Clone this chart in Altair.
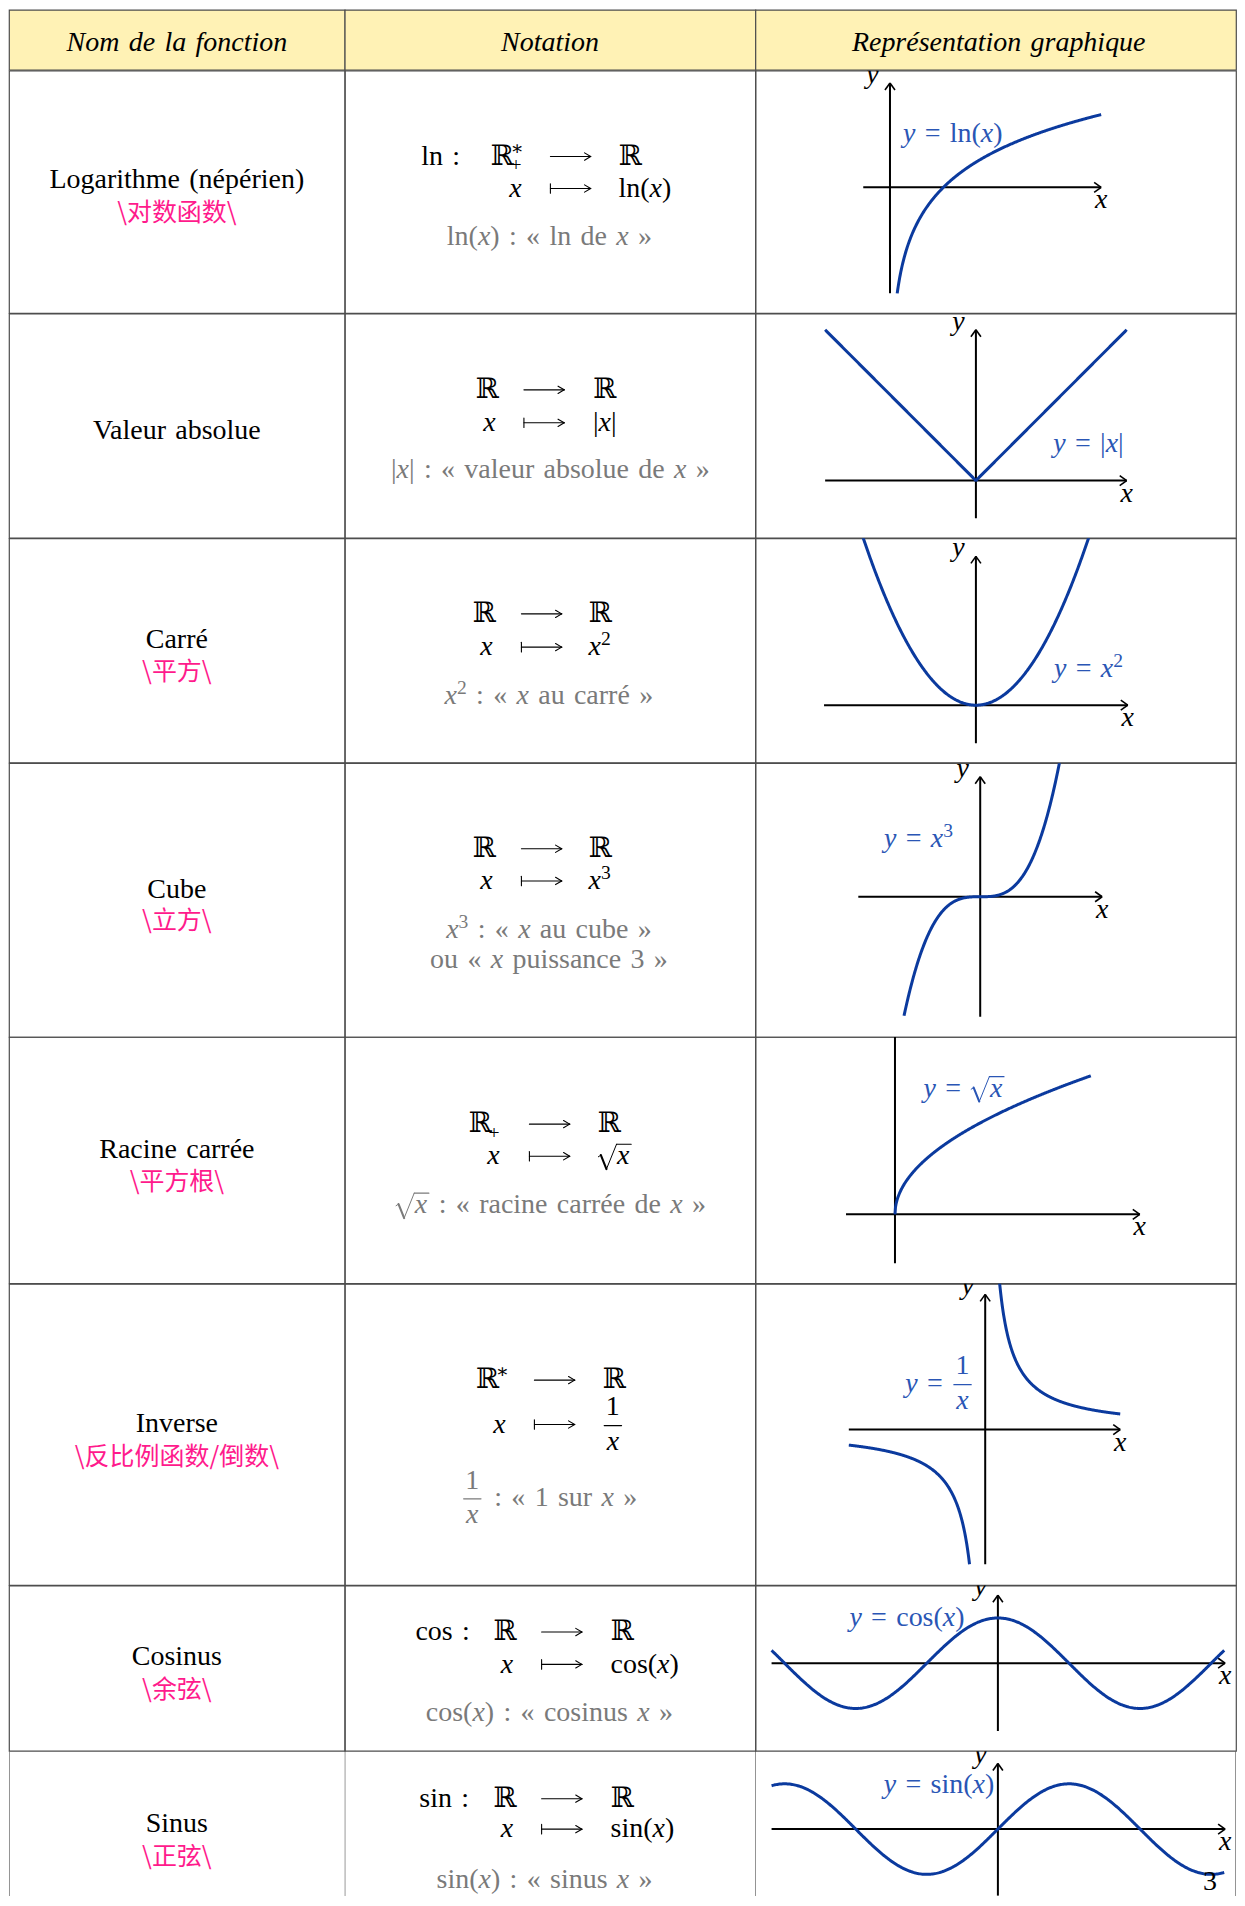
import altair as alt
import numpy as np
import pandas as pd

# ======================= content =======================
HEADERS = ["Nom de la fonction", "Notation", "Représentation graphique"]
NAMES = ["Logarithme (népérien)", "Valeur absolue", "Carré", "Cube",
         "Racine carrée", "Inverse", "Cosinus", "Sinus"]
NAMES_ZH = ["\\对数函数\\", "", "\\平方\\", "\\立方\\", "\\平方根\\",
            "\\反比例函数/倒数\\", "\\余弦\\", "\\正弦\\"]
PREFIX = ["ln :", "", "", "", "", "", "cos :", "sin :"]
DOMAIN = ["ℝ^{∗}_{+}", "ℝ", "ℝ", "ℝ", "ℝ_{+}", "ℝ^{∗}", "ℝ", "ℝ"]
CODOMAIN = ["ℝ", "ℝ", "ℝ", "ℝ", "ℝ", "ℝ", "ℝ", "ℝ"]
VARIABLE = ["*x*"] * 8
IMAGE = ["ln(*x*)", "|*x*|", "*x*^{2}", "*x*^{3}", "√#{*x*}",
         "\\frac{1}{*x*}", "cos(*x*)", "sin(*x*)"]
READING = [["ln(*x*) : « ln de *x* »"],
           ["|*x*| : « valeur absolue de *x* »"],
           ["*x*^{2} : « *x* au carré »"],
           ["*x*^{3} : « *x* au cube »", "ou « *x* puissance 3 »"],
           ["√#{*x*} : « racine carrée de *x* »"],
           ["\\frac{1}{*x*} : « 1 sur *x* »"],
           ["cos(*x*) : « cosinus *x* »"],
           ["sin(*x*) : « sinus *x* »"]]
CURVE_LABEL = ["*y* = ln(*x*)", "*y* = |*x*|", "*y* = *x*^{2}", "*y* = *x*^{3}",
               "*y* = √#{*x*}", "*y* = \\frac{1}{*x*}", "*y* = cos(*x*)", "*y* = sin(*x*)"]
FUNCTIONS = ["ln", "abs", "square", "cube", "sqrt", "inverse", "cos", "sin"]
CURVE_DOMAIN = [[(0.135, 3.95)], [(-3, 3)], [(-1.6, 1.6)], [(-1.25, 1.35)],
                [(0, 2)], [(-3, -0.345), (0.29, 2.97)], [(-5, 5)], [(-5, 5)]]
X_AXIS = [(-0.5, 3.95), (-3, 3), (-2, 2), (-2, 2), (-0.5, 2.5), (-3, 2.97), (-5, 5.02), (-5, 5.02)]
Y_AXIS = [(-2, 1.97), (-0.75, 3), (-0.5, 1.96), (-1.97, 1.97), (-0.5, 2.0),
          (-2.9, 2.91), (-1.5, 1.5), (-1.47, 1.45)]
PAGE_NUMBER = "3"

# ======================= layout (reference pixels) =======================
COL_EDGES = [8, 344, 755, 1236]
ROW_EDGES = [10.8, 71, 313.5, 538, 762.5, 1036.5, 1283, 1584.5, 1750, 1894.8]
HEADER_BASE = 52.3
NAME_CX = 176
NAME_BASE = [188.3, 439.3, 647.3, 897, 1157.4, 1431, 1664, 1830.6]
ZH_BASE = [221, None, 679.5, 928.5, 1190, 1464, 1697.5, 1863.5]
# prefix_cx, left_col_right, arrow_cx, right_col_left, base1, base2, reading_cx, reading_bases
NOTATION_POS = [
    (440, 521, 570, 618, 165, 197, 548.8, [245]),
    (None, 495, 543.5, 592.5, 398, 431, 549.8, [478]),
    (None, 492, 541, 588, 621.7, 655, 548.3, [704]),
    (None, 492, 541, 588, 856.3, 888.5, 548.4, [937.5, 967.9]),
    (None, 499, 549, 597, 1131.9, 1164, 550, [1213]),
    (None, 505, 554, 602, 1387.6, 1432, 549, [1505.3]),
    (442, 512.7, 561.2, 610, 1639.2, 1671.6, 548.8, [1720.3]),
    (443.5, 512.7, 561.2, 610, 1805.5, 1836, 544, [1886.6]),
]
GRAPH_ORIGIN = [(889.7, 187.7), (975.7, 480.7), (975.7, 705), (980, 896.2),
                (894.7, 1214), (985, 1429), (997.7, 1662.3), (997.7, 1827.8)]
GRAPH_UNIT = [(53.5, 53), (50.3, 50.3), (76, 76), (61, 61), (98, 98),
              (45.5, 46.5), (45.3, 45.3), (45.3, 45.3)]
LABEL_POS = [(952.5, 142), (1088.3, 451.7), (1088.3, 676.7), (918.3, 846.2),
             (963.8, 1096.4), (940, 1391), (906.7, 1625), (938.7, 1791.3)]
PAGE_POS = (1210, 1888.5)

# ======================= style =======================
SERIF = "Liberation Serif, DejaVu Serif, serif"
CJK = "Noto Sans CJK SC"
BLACK = "#000000"
GRAY = "#7a7a7a"
PINK = "#ff1a8c"
BLUE_T = "#2a56b5"
BLUE = "#0b3a9e"
HEAD = "#fff2b5"
LINE = "#4d4d4d"
FS = 28
ZS = 25
SP = "\u2004"
ARROWS = {"⟶": False, "⟼": True}

W_RM = {" ": 0.333, "(": 0.333, ")": 0.333, ":": 0.278, "«": 0.5, "»": 0.5,
        "|": 0.2, "=": 0.564, "+": 0.564, "∗": 0.5, "ℝ": 0.72,
        "/": 0.278, "é": 0.444}
for c in "0123456789":
    W_RM[c] = 0.5
W_RM.update(dict(zip("abcdefghijklmnopqrstuvwxyz",
                     [0.444, 0.5, 0.444, 0.5, 0.444, 0.333, 0.5, 0.5, 0.278, 0.278, 0.5,
                      0.278, 0.778, 0.5, 0.5, 0.5, 0.5, 0.333, 0.389, 0.278, 0.5, 0.5,
                      0.722, 0.5, 0.5, 0.444])))
W_IT = {"x": 0.444, "y": 0.444}


def cw(c, it):
    if it and c in W_IT:
        return W_IT[c]
    return W_RM.get(c, 0.5)


def parse(s):
    toks, i, it = [], 0, False
    while i < len(s):
        if s.startswith("\\frac{", i):
            j = s.index("}", i + 6)
            k = s.index("}", j + 2)
            toks.append(("frac", parse(s[i + 6:j]), parse(s[j + 2:k])))
            i = k + 1
        elif s.startswith("√#{", i):
            j = s.index("}", i + 3)
            toks.append(("sqrt", parse(s[i + 3:j])))
            i = j + 1
        elif s[i] in "^_" and i + 1 < len(s) and s[i + 1] == "{":
            j = s.index("}", i + 2)
            toks.append(({"^": "sup", "_": "sub"}[s[i]], parse(s[i + 2:j])))
            i = j + 1
        elif s[i] == "*":
            it = not it
            i += 1
        else:
            toks.append(("ch", s[i], it))
            i += 1
    return toks


def seg(rules, x, y, x2, y2, color, w):
    rules.append(dict(x=x, y=y, x2=x2, y2=y2, color=color, w=w))


def lay(toks, x, base, size, color, frags, rules):
    state = {"run": "", "font": None, "x": x}

    def flush():
        txt = state["run"].rstrip(" ")
        if txt:
            frags.append(dict(x=state["x"], y=base, text=txt.replace(" ", SP),
                              font=state["font"], align="left", size=size, color=color))
        state["run"], state["font"] = "", None

    last_sup = None
    e = size
    for t in toks:
        if t[0] == "ch":
            c = t[1]
            if c == " ":
                if state["run"]:
                    state["run"] += " "
                x += cw(c, False) * size
                continue
            f = "it" if t[2] else "rm"
            if f != state["font"] or not state["run"]:
                flush()
                state["font"], state["x"] = f, x
            state["run"] += c
            x += cw(c, t[2]) * size
            last_sup = None
            continue
        flush()
        if t[0] == "sup":
            end = lay(t[1], x, base - 0.36 * size, size * 0.7, color, frags, rules)
            last_sup = (x, end)
            x = end
        elif t[0] == "sub":
            start = last_sup[0] if last_sup else x
            end = lay(t[1], start, base + 0.24 * size, size * 0.7, color, frags, rules)
            x = max(x, end)
            last_sup = None
        elif t[0] == "sqrt":
            pts = [(0.03, -0.27), (0.12, -0.33), (0.32, 0.17), (0.68, -0.72)]
            wid = [1.0, 2.1, 1.0]
            for (a0, a1), (b0, b1), wd in zip(pts[:-1], pts[1:], wid):
                seg(rules, x + a0 * e, base + a1 * e, x + b0 * e, base + b1 * e, color, wd)
            end = lay(t[1], x + 0.70 * e, base, size, color, frags, rules)
            seg(rules, x + 0.68 * e, base - 0.72 * e, end + 0.06 * e, base - 0.72 * e, color, 1.1)
            x = end + 0.08 * e
            last_sup = None
        elif t[0] == "frac":
            wn = lay(t[1], 0, 0, size, color, [], [])
            wd = lay(t[2], 0, 0, size, color, [], [])
            w = max(wn, wd) + 0.24 * size
            cx = x + w / 2
            lay(t[1], cx - wn / 2, base - 0.62 * size, size, color, frags, rules)
            lay(t[2], cx - wd / 2, base + 0.63 * size, size, color, frags, rules)
            yb = base - 0.25 * size
            seg(rules, x + 0.06 * size, yb, x + w - 0.06 * size, yb, color, 1.2)
            x += w + 0.08 * size
            last_sup = None
    flush()
    return x


def draw_arrow(cx, base, size, color, mapsto, rules):
    y = base - 0.29 * size
    x0, x1 = cx - 0.72 * size, cx + 0.72 * size
    seg(rules, x0, y, x1, y, color, 1.1)
    seg(rules, x1, y, x1 - 0.22 * size, y - 0.13 * size, color, 1.1)
    seg(rules, x1, y, x1 - 0.22 * size, y + 0.13 * size, color, 1.1)
    if mapsto:
        seg(rules, x0, y - 0.17 * size, x0, y + 0.17 * size, color, 1.1)


def place(markup, anchor, base, size, color, frags, rules, align="center"):
    if markup in ARROWS:
        draw_arrow(anchor, base, size, color, ARROWS[markup], rules)
        return
    toks = parse(markup)
    w = lay(toks, 0, 0, size, color, [], [])
    x0 = anchor - w / 2 if align == "center" else (anchor - w if align == "right" else anchor)
    lay(toks, x0, base, size, color, frags, rules)


def simple(text, cx, base, font, size, color, frags):
    frags.append(dict(x=cx, y=base, text=text.replace(" ", SP), font=font, align="center",
                      size=size, color=color))


def evaluate(name, xs):
    return {"ln": np.log, "abs": np.abs, "square": np.square, "cube": lambda v: v ** 3,
            "sqrt": np.sqrt, "inverse": lambda v: 1.0 / v, "cos": np.cos, "sin": np.sin}[name](xs)


def text_layers(frags, XS, YS, clip):
    out = []
    if not frags:
        return out
    df = pd.DataFrame(frags)
    for (font, align), g in df.groupby(["font", "align"]):
        fam = CJK if font == "zh" else SERIF
        style = "italic" if font == "it" else "normal"
        out.append(
            alt.Chart(g.reset_index(drop=True)).mark_text(
                align=align, baseline="alphabetic", font=fam, fontStyle=style, clip=clip
            ).encode(
                x=alt.X("x:Q", scale=XS, axis=None),
                y=alt.Y("y:Q", scale=YS, axis=None),
                text="text:N",
                color=alt.Color("color:N", scale=None),
                size=alt.Size("size:Q", scale=None),
            )
        )
    return out


def rule_layer(rows, XS, YS, clip=False, cap="butt"):
    df = pd.DataFrame(rows)
    return alt.Chart(df).mark_rule(clip=clip, strokeCap=cap).encode(
        x=alt.X("x:Q", scale=XS, axis=None), x2="x2:Q",
        y=alt.Y("y:Q", scale=YS, axis=None), y2="y2:Q",
        color=alt.Color("color:N", scale=None),
        strokeWidth=alt.StrokeWidth("w:Q", scale=None),
    )


def panel(col, row, frags, rules, graph=None, fill=None):
    x0, x1 = COL_EDGES[col], COL_EDGES[col + 1]
    y0, y1 = ROW_EDGES[row], ROW_EDGES[row + 1]
    w, h = x1 - x0, y1 - y0
    open_bottom = row == len(ROW_EDGES) - 2
    if graph is None:
        fx = lambda v: v - x0
        fy = lambda v: v - y0
        XS = alt.Scale(domain=[0, w], nice=False, zero=False)
        YS = alt.Scale(domain=[0, h], nice=False, zero=False, reverse=True)
    else:
        ox, oy = GRAPH_ORIGIN[graph]
        ux, uy = GRAPH_UNIT[graph]
        fx = lambda v: (v - ox) / ux
        fy = lambda v: (oy - v) / uy
        XS = alt.Scale(domain=[fx(x0), fx(x1)], nice=False, zero=False)
        YS = alt.Scale(domain=[fy(y1), fy(y0)], nice=False, zero=False)
    borders = []
    if open_bottom:
        seg(borders, x0, y0, x0, y1, LINE, 1.2)
        if col == 2:
            seg(borders, x1, y0, x1, y1, LINE, 1.2)
    conv = lambda fr: [dict(f, x=fx(f["x"]), y=fy(f["y"])) for f in fr]
    convr = lambda rr: [dict(r, x=fx(r["x"]), x2=fx(r["x2"]), y=fy(r["y"]), y2=fy(r["y2"])) for r in rr]
    layers = []
    if graph is not None:
        ux, uy = GRAPH_UNIT[graph]
        xa0, xa1 = X_AXIS[graph]
        ya0, ya1 = Y_AXIS[graph]
        axes = [dict(x=xa0, y=0, x2=xa1, y2=0, color=BLACK, w=2),
                dict(x=0, y=ya0, x2=0, y2=ya1, color=BLACK, w=2),
                dict(x=xa1, y=0, x2=xa1 - 7 / ux, y2=5 / uy, color=BLACK, w=1.6),
                dict(x=xa1, y=0, x2=xa1 - 7 / ux, y2=-5 / uy, color=BLACK, w=1.6),
                dict(x=0, y=ya1, x2=5 / ux, y2=ya1 - 7 / uy, color=BLACK, w=1.6),
                dict(x=0, y=ya1, x2=-5 / ux, y2=ya1 - 7 / uy, color=BLACK, w=1.6)]
        layers.append(rule_layer(axes, XS, YS, clip=True))
        pts = []
        for k, (a, b) in enumerate(CURVE_DOMAIN[graph]):
            xs = np.linspace(a, b, 400)
            ys = evaluate(FUNCTIONS[graph], xs)
            pts += [dict(x=float(u), y=float(v), seg=k) for u, v in zip(xs, ys)]
        layers.append(
            alt.Chart(pd.DataFrame(pts)).mark_line(clip=True, color=BLUE, strokeWidth=3).encode(
                x=alt.X("x:Q", scale=XS, axis=None),
                y=alt.Y("y:Q", scale=YS, axis=None),
                detail="seg:N",
            )
        )
    if rules:
        layers.append(rule_layer(convr(rules), XS, YS, clip=graph is not None, cap="round"))
    if borders:
        layers.append(rule_layer(convr(borders), XS, YS, clip=True))
    layers += text_layers(conv(frags), XS, YS, clip=graph is not None)
    ch = alt.layer(*layers).properties(width=w, height=h)
    if fill:
        ch = ch.properties(view=alt.ViewBackground(fill=fill))
    if open_bottom:
        ch = ch.properties(view=alt.ViewBackground(strokeOpacity=0))
    return ch


# ======================= build =======================
panels = []
for c, title in enumerate(HEADERS):
    fr = []
    simple(title, (COL_EDGES[c] + COL_EDGES[c + 1]) / 2 if c < 2 else 998.5, HEADER_BASE,
           "it", FS, BLACK, fr)
    panels.append(panel(c, 0, fr, [], fill=HEAD))

for i in range(8):
    r = i + 1
    fr = []
    simple(NAMES[i], NAME_CX, NAME_BASE[i], "rm", FS, BLACK, fr)
    if NAMES_ZH[i]:
        simple(NAMES_ZH[i], NAME_CX, ZH_BASE[i], "zh", ZS, PINK, fr)
    panels.append(panel(0, r, fr, []))

    fr, ru = [], []
    pc, lr, ac, rl, b1, b2, rcx, rbases = NOTATION_POS[i]
    if PREFIX[i]:
        place(PREFIX[i], pc, b1, FS, BLACK, fr, ru)
    place(DOMAIN[i], lr, b1, FS, BLACK, fr, ru, align="right")
    place("⟶", ac, b1, FS, BLACK, fr, ru)
    place(CODOMAIN[i], rl, b1, FS, BLACK, fr, ru, align="left")
    place(VARIABLE[i], lr, b2, FS, BLACK, fr, ru, align="right")
    place("⟼", ac, b2, FS, BLACK, fr, ru)
    place(IMAGE[i], rl, b2, FS, BLACK, fr, ru, align="left")
    for txt, b in zip(READING[i], rbases):
        place(txt, rcx, b, FS, GRAY, fr, ru)
    panels.append(panel(1, r, fr, ru))

    fr, ru = [], []
    ox, oy = GRAPH_ORIGIN[i]
    ux, uy = GRAPH_UNIT[i]
    lx, lb = LABEL_POS[i]
    place(CURVE_LABEL[i], lx, lb, FS, BLUE_T, fr, ru)
    place("*x*", ox + X_AXIS[i][1] * ux, oy + 21, FS, BLACK, fr, ru)
    place("*y*", ox - 17.5, oy - Y_AXIS[i][1] * uy, FS, BLACK, fr, ru)
    if i == 7:
        simple(PAGE_NUMBER, PAGE_POS[0], PAGE_POS[1], "rm", FS, BLACK, fr)
    panels.append(panel(2, r, fr, ru, graph=i))

chart = alt.concat(*panels, columns=3, spacing=0, bounds="flush", padding=0,
                   background="white").resolve_scale(
    x="independent", y="independent"
).configure_view(stroke=LINE, strokeWidth=1.2)

chart.save("out.html", embed_options={"renderer": "svg", "actions": False})
